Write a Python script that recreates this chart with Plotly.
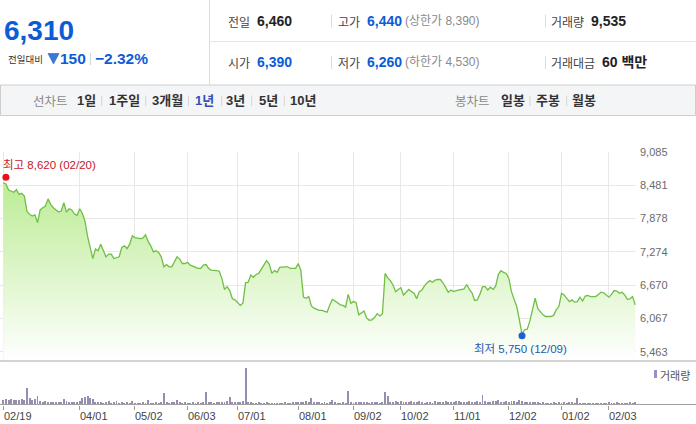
import plotly.graph_objects as go
import pandas as pd

W, H = 696, 424

# ---------------- data ----------------
krx_holidays = ["2024-03-01", "2024-04-10", "2024-05-01", "2024-05-06", "2024-05-15",
                "2024-06-06", "2024-08-15", "2024-09-16", "2024-09-17", "2024-09-18",
                "2024-10-01", "2024-10-03", "2024-10-09", "2024-12-25", "2024-12-31",
                "2025-01-01", "2025-01-27", "2025-01-28", "2025-01-29", "2025-01-30"]
dates = [d.strftime("%Y-%m-%d") for d in pd.bdate_range("2024-02-19", "2025-02-17")
         if d.strftime("%Y-%m-%d") not in krx_holidays]

prices = [
    8520, 8500, 8390, 8370, 8350, 8400, 8310, 8330, 8280, 8000,
    7950, 7920, 7940, 7800, 8030, 8070, 8100, 8230, 8130, 8070,
    8030, 7990, 8010, 8160, 7990, 8050, 8030, 7960, 7930, 8050,
    7970, 7830, 7550, 7350, 7150, 7320, 7290, 7410, 7290, 7180,
    7230, 7230, 7150, 7160, 7180, 7350, 7380, 7330, 7410, 7560,
    7530, 7520, 7510, 7520, 7580, 7460, 7380, 7270, 7290, 7260,
    7180, 7000, 7040, 7000, 7000, 7090, 7180, 7140, 7060, 7060,
    7080, 7030, 7010, 7000, 6970, 6970, 7030, 7040, 6970, 6940,
    6940, 6930, 6920, 6790, 6590, 6640, 6570, 6420, 6400, 6350,
    6300, 6340, 6710, 6720, 6850, 6810, 6860, 6880, 6950, 7040,
    7110, 7050, 6880, 6930, 6900, 6990, 7000, 7000, 7000, 6970,
    6970, 6970, 7060, 6940, 6450, 6430, 6460, 6290, 6250, 6230,
    6210, 6210, 6200, 6180, 6310, 6410, 6380, 6350, 6310, 6300,
    6270, 6500, 6340, 6370, 6350, 6130, 6160, 6200, 6070, 6030,
    6040, 6080, 6150, 6110, 6150, 6880, 6800, 6750, 6670, 6550,
    6590, 6620, 6490, 6550, 6590, 6550, 6520, 6420, 6550, 6580,
    6660, 6710, 6750, 6720, 6760, 6770, 6770, 6710, 6610, 6540,
    6580, 6550, 6570, 6580, 6590, 6600, 6680, 6590, 6530, 6390,
    6400, 6500, 6640, 6640, 6580, 6630, 6590, 6650, 6860, 6930,
    6900, 6880, 6790, 6550, 6410, 6280, 6040, 5780, 5860, 5870,
    6020, 6250, 6430, 6240, 6180, 6130, 6100, 6100, 6100, 6120,
    6220, 6280, 6520, 6490, 6420, 6370, 6400, 6360, 6370, 6450,
    6380, 6470, 6480, 6460, 6460, 6460, 6500, 6540, 6530, 6490,
    6450, 6500, 6570, 6560, 6520, 6540, 6490, 6410, 6420, 6460,
    6310,
]

volumes = (
    [16000, 19000, 15000, 17000, 14000, 16000, 15000, 18000, 15000]
    + [51000]
    + [20000, 16000, 17000]
    + [27000]
    + [11000, 9000, 12000, 10000, 9000, 8000, 10000, 9000, 8000]
    + [17000]
    + [11000, 10000, 9000, 10000, 9000, 12000]
    + [20000, 24000, 27000, 22000, 18000]
    + [9000, 8000, 10000, 7000, 8000, 13000, 7000, 8000, 12000, 7000, 9000, 7000, 8000, 7000, 13000]
    + [6000, 7000, 6000, 8000, 7000, 14000, 7000, 6000, 8000, 6000, 9000]
    + [36000]
    + [9000, 7000, 8000, 9000, 14000, 8000, 7000, 9000, 6000, 7000, 8000, 7000, 9000, 7000, 10000]
    + [39000]
    + [8000, 9000, 7000, 9000, 8000, 10000, 9000, 11000]
    + [24000]
    + [9000, 8000, 10000, 9000, 12000]
    + [110000]
    + [9000, 8000, 6000, 7000, 8000, 6000, 7000, 8000, 6000, 5000, 7000, 6000,
       6000, 7000, 8000, 6000, 7000, 8000, 9000, 10000, 8000, 9000, 12000, 10000]
    + [21000]
    + [10000, 9000, 8000, 7000, 8000, 6000, 9000, 14000, 8000, 7000, 6000, 8000, 7000]
    + [42000]
    + [9000, 7000, 8000, 10000, 9000, 8000, 9000, 7000, 8000, 9000, 8000, 7000, 8000]
    + [39000, 27000]
    + [10000, 9000, 12000, 8000, 11000, 9000, 10000, 8000, 12000, 9000,
       8000, 11000, 9000, 7000, 10000, 8000, 6000, 11000, 9000, 8000,
       10000, 12000, 9000, 10000, 8000, 11000, 12000, 9000, 8000, 10000,
       11000, 9000, 8000, 12000, 10000]
    + [30000]
    + [12000, 10000, 9000, 11000, 12000, 14000, 10000, 9000, 11000, 10000,
       13000, 12000, 10000, 14000, 12000, 10000, 9000, 8000, 10000, 9000,
       8000, 7000, 8000, 7000, 6000, 7000, 8000, 7000, 9000, 6000,
       8000, 7000, 9000, 8000, 7000]
    + [21000]
    + [7000, 6000, 5000, 7000, 6000, 5000, 6000, 7000, 5000, 6000,
       7000, 8000, 6000, 7000, 8000, 7000, 6000, 7000, 6000, 8000,
       7000, 9535]
)

tick_dates = ["2024-02-19", "2024-04-01", "2024-05-02", "2024-06-03", "2024-07-01", "2024-08-01",
              "2024-09-02", "2024-10-02", "2024-11-01", "2024-12-02", "2025-01-02", "2025-02-03"]
tick_labels = ["02/19", "04/01", "05/02", "06/03", "07/01", "08/01",
               "09/02", "10/02", "11/01", "12/02", "01/02", "02/03"]
y_ticks = [5463, 6067, 6670, 7274, 7878, 8481, 9085]

high_value, high_date, high_label = 8620, "2024-02-20", "최고 8,620 (02/20)"
low_value, low_date, low_label = 5750, "2024-12-09", "최저 5,750 (12/09)"

current_price = "6,310"
change_abs = "150"
change_pct = "−2.32%"
row1 = [("전일", "6,460", "#222", ""), ("고가", "6,440", "#0e5bd6", "(상한가 8,390)"), ("거래량", "9,535", "#222", "")]
row2 = [("시가", "6,390", "#0e5bd6", ""), ("저가", "6,260", "#0e5bd6", "(하한가 4,530)"), ("거래대금", "60 백만", "#222", "")]
line_tabs = ["1일", "1주일", "3개월", "1년", "3년", "5년", "10년"]
candle_tabs = ["일봉", "주봉", "월봉"]

# ---------------- figure ----------------
idx = {d: i for i, d in enumerate(dates)}
xs = list(range(len(prices)))
xv = list(range(len(volumes)))
tick_idx = [idx[d] for d in tick_dates]

PX = 2.633
X0 = 3.3
XR = [-X0 / PX, (636 - X0) / PX]
XD = [0, 636 / W]

def fx(x):
    return x / W

def fy(y):
    return 1 - y / H

KR = "Noto Sans CJK KR"
MIX = "Liberation Sans, Noto Sans CJK KR"

fig = go.Figure()

fig.add_trace(go.Scatter(
    x=xs, y=prices, mode="lines", xaxis="x", yaxis="y",
    line=dict(color="#6fbf45", width=1.3),
    fill="tozeroy",
    fillgradient=dict(type="vertical", start=5294, stop=8550,
                      colorscale=[[0, "#ffffff"], [1, "#bbec94"]]),
    hoverinfo="skip",
))
fig.add_trace(go.Scatter(
    x=[idx[high_date]], y=[high_value], mode="markers", xaxis="x", yaxis="y",
    marker=dict(color="#e8111b", size=7), hoverinfo="skip",
))
fig.add_trace(go.Scatter(
    x=[idx[low_date]], y=[low_value], mode="markers", xaxis="x", yaxis="y",
    marker=dict(color="#1d5fd2", size=7), hoverinfo="skip",
))
fig.add_trace(go.Bar(
    x=xv, y=volumes, xaxis="x2", yaxis="y2", width=0.36,
    marker=dict(color="#958eb0", line=dict(width=0)), hoverinfo="skip",
))

ann = []

def txt(x, y, s, size=13, color="#333", bold=False, anchor="left", family=MIX):
    ann.append(dict(x=fx(x), y=fy(y), xref="paper", yref="paper",
                    text=("<b>%s</b>" % s) if bold else s, showarrow=False,
                    xanchor=anchor, yanchor="middle", borderpad=0, borderwidth=0,
                    font=dict(size=size, color=color, family=family)))

shapes = []

def hline(x0, x1, y, color, w=1):
    shapes.append(dict(type="line", xref="paper", yref="paper", x0=fx(x0), x1=fx(x1),
                       y0=fy(y), y1=fy(y), line=dict(color=color, width=w)))

def vline(x, y0, y1, color, w=1):
    shapes.append(dict(type="line", xref="paper", yref="paper", x0=fx(x), x1=fx(x),
                       y0=fy(y0), y1=fy(y1), line=dict(color=color, width=w)))

# header
vline(209.5, 0, 84.5, "#dcdcdc")
hline(209.5, 696, 41.5, "#e6e6e6")
shapes.append(dict(type="rect", xref="paper", yref="paper", x0=fx(0.5), x1=fx(695.5),
                   y0=fy(85), y1=fy(115.5), fillcolor="#f4f5f7",
                   line=dict(color="#cdcdcd", width=1), layer="below"))

txt(4, 31, current_price, size=28, color="#0e5bd6", bold=True)
txt(7.5, 59, "전일대비", size=9.5, color="#333", family=KR)
shapes.append(dict(type="path", xref="paper", yref="paper",
                   path="M %f %f L %f %f L %f %f Z" % (fx(48), fy(53.5), fx(59), fy(53.5), fx(53.5), fy(64)),
                   fillcolor="#3a78d6", line=dict(color="#2a62c0", width=0.6)))
txt(59.5, 59, change_abs, size=15.5, color="#0e5bd6", bold=True)
vline(90.5, 53, 65, "#d8d8d8")
txt(95, 59, change_pct, size=15.5, color="#0e5bd6", bold=True)

col_lab = [228, 338, 551]
col_val = [257, 367, 591]
for r, (row, yy) in enumerate([(row1, 21), (row2, 62.5)]):
    for c, (lab, val, vcol, extra) in enumerate(row):
        txt(col_lab[c], yy, lab, size=12, color="#444", family=KR)
        vx = col_val[c] + (11 if lab == "거래대금" else 0)
        txt(vx, yy, val, size=14, color=vcol, bold=True)
        if extra:
            txt(405, yy, extra, size=12, color="#8a8a8a")
    vline(331.5, yy - 6.5, yy + 6.5, "#dddddd")
    vline(545.5, yy - 6.5, yy + 6.5, "#dddddd")

# tab bar
txt(50, 100.5, "선차트", size=12.5, color="#8a8a8a", anchor="center", family=KR)
tab_cx = [86.7, 124, 167.5, 204.7, 236, 268, 303]
for t, cx in zip(line_tabs, tab_cx):
    txt(cx, 100.5, t, size=13, color="#3450b4" if t == "1년" else "#333", bold=True, anchor="center")
for sx in [101.7, 145.7, 188.5, 221.7, 251.7, 284.3, 530, 566.7]:
    vline(sx, 95.5, 106, "#d5d5d5")
txt(472.7, 100.5, "봉차트", size=12.5, color="#8a8a8a", anchor="center", family=KR)
for t, cx in zip(candle_tabs, [512.7, 548, 584]):
    txt(cx, 100.5, t, size=13, color="#333", bold=True, anchor="center")

# chart separators
hline(0, 696, 361, "#a8a8a8")
hline(0, 696, 404.5, "#a0a0a0")

# y labels
for v in y_ticks:
    ann.append(dict(x=fx(640), y=v, xref="paper", yref="y", text=f"{v:,}", showarrow=False,
                    xanchor="left", yanchor="middle", borderpad=0, borderwidth=0,
                    font=dict(size=11, color="#6a6a6a", family="Liberation Sans")))
# date labels
for ti, tl in zip(tick_idx, tick_labels):
    ann.append(dict(x=ti, y=fy(416), xref="x2", yref="paper", text=tl, showarrow=False,
                    xanchor="left", yanchor="middle", borderpad=0, borderwidth=0, xshift=0.5,
                    font=dict(size=11, color="#444", family="Liberation Sans")))

# max / min labels
txt(2.5, 165, high_label, size=11.5, color="#c8161f")
txt(474, 348.5, low_label, size=11.5, color="#2059b0")

# volume legend
shapes.append(dict(type="rect", xref="paper", yref="paper", x0=fx(654), x1=fx(657),
                   y0=fy(378), y1=fy(370), fillcolor="#9a90c4", line=dict(width=0)))
txt(659.5, 374.5, "거래량", size=11, color="#555", family=KR)

fig.update_layout(
    width=W, height=H, margin=dict(l=0, r=0, t=0, b=0),
    paper_bgcolor="white", plot_bgcolor="rgba(0,0,0,0)",
    showlegend=False, hovermode=False, bargap=0,
    font=dict(family=MIX),
    xaxis=dict(domain=XD, range=XR, anchor="y", tickvals=tick_idx, showticklabels=False,
               showgrid=True, gridcolor="#e8e8e8", gridwidth=1, zeroline=False, ticks="",
               showline=False, fixedrange=True),
    yaxis=dict(domain=[fy(361), fy(151.65)], range=[5294, 9085], anchor="x", tickvals=y_ticks,
               showticklabels=False, showgrid=True, gridcolor="#e8e8e8", gridwidth=1,
               zeroline=False, ticks="", showline=False, fixedrange=True),
    xaxis2=dict(domain=XD, range=XR, anchor="y2", tickvals=tick_idx, showticklabels=False,
                showgrid=False, zeroline=False, ticks="outside", ticklen=4, tickcolor="#999",
                tickwidth=1, showline=False, fixedrange=True),
    yaxis2=dict(domain=[fy(404.5), fy(361.5)], range=[0, 128000], anchor="x2",
                showticklabels=False, showgrid=False, zeroline=False, ticks="",
                showline=False, fixedrange=True),
    annotations=ann, shapes=shapes,
)

fig.write_html("out.html")
